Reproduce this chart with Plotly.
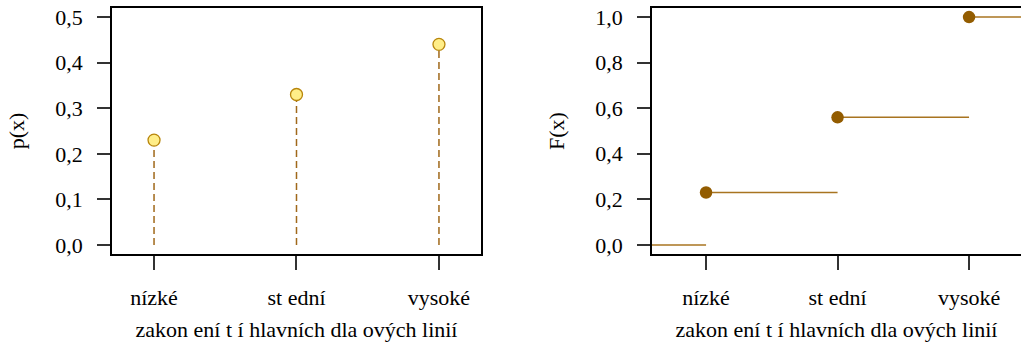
import plotly.graph_objects as go

categories = ["nízké", "st ední", "vysoké"]
x_pos = [1, 2, 3]
p_values = [0.23, 0.33, 0.44]
F_values = [0.23, 0.56, 1.0]
x_title = "zakon ení t í hlavních dla ových linií"

left_xrange = [0.705, 3.295]
right_xrange = [0.589, 3.395]

font_family = "'Liberation Serif', 'Times New Roman', 'DejaVu Serif', serif"
stem_color = "#A0681A"
dot_fill = "#FFEE88"
dot_line = "#B8860B"
step_color = "#A87420"
step_dot = "#935C00"

fig = go.Figure()

# PMF stems
for xv, pv in zip(x_pos, p_values):
    fig.add_trace(go.Scatter(x=[xv, xv], y=[0, pv], mode="lines",
                             line=dict(color=stem_color, width=1.5, dash="7px,4px"),
                             xaxis="x", yaxis="y", showlegend=False, hoverinfo="skip"))
fig.add_trace(go.Scatter(x=x_pos, y=p_values, mode="markers",
                         marker=dict(size=12, color=dot_fill, line=dict(color=dot_line, width=1.3)),
                         xaxis="x", yaxis="y", showlegend=False))

# CDF steps
starts = [right_xrange[0]] + x_pos
ends = x_pos + [right_xrange[1]]
levels = [0.0] + F_values
for s, e, lv in zip(starts, ends, levels):
    fig.add_trace(go.Scatter(x=[s, e], y=[lv, lv], mode="lines",
                             line=dict(color=step_color, width=1.5),
                             xaxis="x2", yaxis="y2", showlegend=False, hoverinfo="skip"))
fig.add_trace(go.Scatter(x=x_pos, y=F_values, mode="markers",
                         marker=dict(size=12.5, color=step_dot, line=dict(width=0)),
                         xaxis="x2", yaxis="y2", showlegend=False))

tickfont = dict(family=font_family, size=22, color="black")
common_x = dict(tickmode="array", tickvals=x_pos, ticktext=categories,
                ticks="outside", ticklen=14, tickwidth=1.5, tickcolor="#333",
                showgrid=False, zeroline=False, showline=True, linecolor="black",
                linewidth=1.5, tickfont=tickfont, ticklabelstandoff=9,
                title=dict(text=x_title, font=tickfont, standoff=12))
common_y = dict(ticks="outside", ticklen=13, tickwidth=1.5, tickcolor="#333",
                showgrid=False, zeroline=False, showline=True, linecolor="black",
                linewidth=1.5, tickfont=tickfont, tickformat=".1f", ticklabelstandoff=10)

fig.update_layout(
    width=1021, height=347,
    margin=dict(l=0, r=0, t=8, b=93),
    plot_bgcolor="white", paper_bgcolor="white",
    separators=", ",
    font=dict(family=font_family, size=22, color="black"),
    xaxis=dict(domain=[0.1097, 0.4711], range=left_xrange, mirror=True, anchor="y", **common_x),
    yaxis=dict(domain=[0, 1], range=[-0.0197, 0.5197], tickvals=[0, 0.1, 0.2, 0.3, 0.4, 0.5],
                mirror=True, anchor="x",
                title=dict(text="p(x)", font=tickfont, standoff=25), **common_y),
    xaxis2=dict(domain=[0.6386, 1.0], range=right_xrange, mirror=True, anchor="y2", **common_x),
    yaxis2=dict(domain=[0, 1], range=[-0.04, 1.04], tickvals=[0, 0.2, 0.4, 0.6, 0.8, 1.0],
                anchor="x2",
                title=dict(text="F(x)", font=tickfont, standoff=25), **common_y),
)

fig.write_html("out.html")
